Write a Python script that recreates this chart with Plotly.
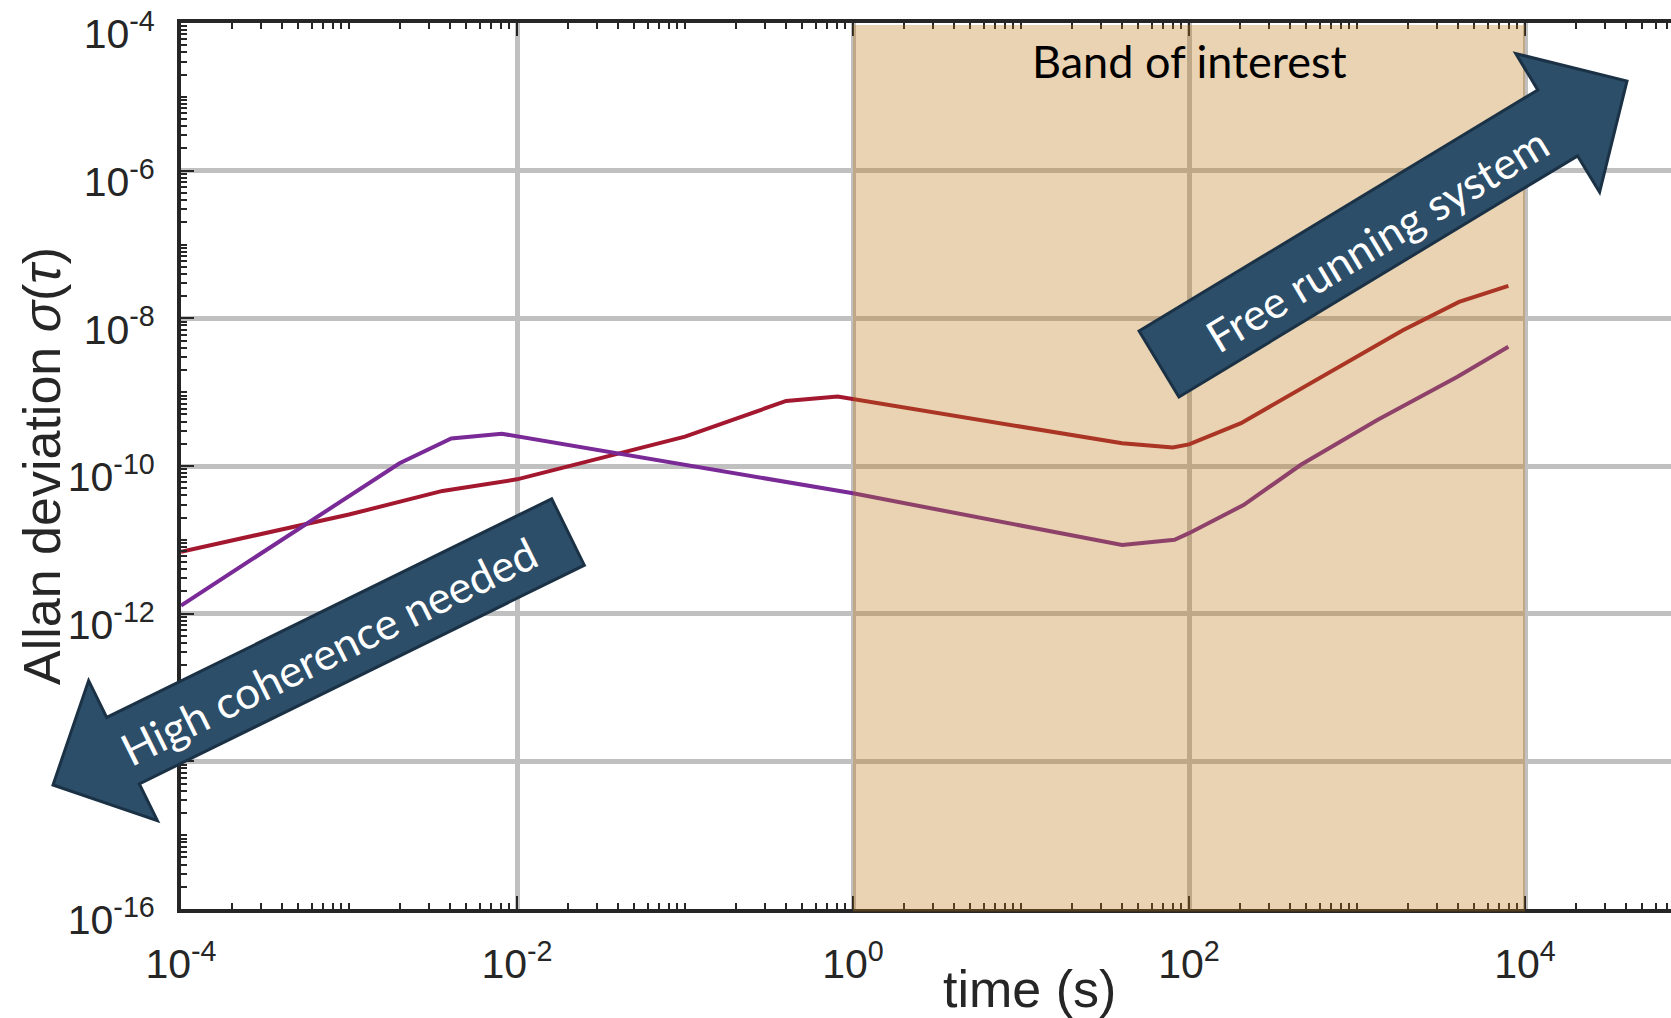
import math
import plotly.graph_objects as go

# ---- data: Allan deviation sigma(tau), tau in seconds ----
tau_red = [1e-4, 1e-3, 3.6e-3, 1e-2, 1e-1, 0.4, 0.81, 40, 80, 100, 204, 980, 1875, 4050, 7960]
adev_red = [6.9e-12, 2.2e-11, 4.6e-11, 6.6e-11, 2.5e-10, 7.6e-10, 8.7e-10,
            2.03e-10, 1.78e-10, 1.96e-10, 3.8e-10, 2.9e-9, 6.9e-9, 1.67e-8, 2.75e-8]

tau_purple = [1e-4, 2.0e-3, 4.06e-3, 8.1e-3, 1.0, 40, 82, 100, 211, 461, 1321, 3963, 7960]
adev_purple = [1.29e-12, 1.09e-10, 2.36e-10, 2.74e-10, 4.27e-11, 8.5e-12, 1.0e-11,
               1.23e-11, 2.96e-11, 1.03e-10, 4.19e-10, 1.62e-9, 4.12e-9]

band_tau = [1, 1e4]  # band of interest

x_major = [1e-4, 1e-2, 1, 1e2, 1e4]
x_major_text = ["10<sup>-4</sup>", "10<sup>-2</sup>", "10<sup>0</sup>",
                "10<sup>2</sup>", "10<sup>4</sup>"]
y_major = [1e-16, 1e-14, 1e-12, 1e-10, 1e-8, 1e-6, 1e-4]
y_major_text = ["10<sup>-16</sup>", "10<sup>-14</sup>", "10<sup>-12</sup>",
                "10<sup>-10</sup>", "10<sup>-8</sup>", "10<sup>-6</sup>", "10<sup>-4</sup>"]

# ---- page geometry ----
W, H = 1671, 1018
ML, MR, MT, MB = 181, 0, 23, 109
PW, PH = W - ML - MR, H - MT - MB
PX_PER_DECADE = 168.0
X_RANGE = [-4.0001, -4 + PW / PX_PER_DECADE]
Y_RANGE = [-16.0001, -3.9999]

AXIS_COLOR = "#262626"
GRID_COLOR = "#c0c0c0"
ARROW_FILL = "#2c4e69"
ARROW_EDGE = "#1b3246"
TEXT_FONT = "Lato, 'Open Sans', sans-serif"
AXIS_FONT = "'Liberation Sans', Arial, sans-serif"


def minor_ticks(lo, hi, skip):
    vals = []
    for d in range(lo, hi + 1):
        for k in range(1, 10):
            v = k * 10.0 ** d
            if not any(abs(v - s) / s < 1e-9 for s in skip):
                vals.append(v)
    return vals


def to_paper(px, py):
    return (px - ML) / PW, (H - MB - py) / PH


def block_arrow(tail, tip, shaft_w, head_w, head_len):
    """Closed SVG path (paper coords) of a block arrow given in page pixels."""
    dx, dy = tip[0] - tail[0], tip[1] - tail[1]
    L = math.hypot(dx, dy)
    ux, uy = dx / L, dy / L
    nx, ny = -uy, ux
    bx, by = tip[0] - ux * head_len, tip[1] - uy * head_len
    pts = [
        (tail[0] + nx * shaft_w / 2, tail[1] + ny * shaft_w / 2),
        (bx + nx * shaft_w / 2, by + ny * shaft_w / 2),
        (bx + nx * head_w / 2, by + ny * head_w / 2),
        tip,
        (bx - nx * head_w / 2, by - ny * head_w / 2),
        (bx - nx * shaft_w / 2, by - ny * shaft_w / 2),
        (tail[0] - nx * shaft_w / 2, tail[1] - ny * shaft_w / 2),
    ]
    pp = [to_paper(*p) for p in pts]
    return "M " + " L ".join(f"{x:.5f},{y:.5f}" for x, y in pp) + " Z"


fig = go.Figure()
fig.add_trace(go.Scatter(x=tau_red, y=adev_red, mode="lines",
                         line=dict(color="#a3172f", width=4), showlegend=False))
fig.add_trace(go.Scatter(x=tau_purple, y=adev_purple, mode="lines",
                         line=dict(color="#7a2a96", width=4), showlegend=False))

# translucent band over the region of interest
fig.add_shape(type="rect", xref="x", yref="paper",
              x0=band_tau[0], x1=band_tau[1], y0=-2.4 / PH, y1=1 - 2.0 / PH,
              fillcolor="rgba(186,118,14,0.32)", line=dict(width=0), layer="above")

# block arrows
fig.add_shape(type="path", xref="paper", yref="paper", layer="above",
              path=block_arrow((568, 532), (53, 785), 74, 156, 78),
              fillcolor=ARROW_FILL, line=dict(color=ARROW_EDGE, width=3))
fig.add_shape(type="path", xref="paper", yref="paper", layer="above",
              path=block_arrow((1159, 364), (1627, 81), 77, 162, 81),
              fillcolor=ARROW_FILL, line=dict(color=ARROW_EDGE, width=3))

ax1 = to_paper(328, 651)
ax2 = to_paper(1377, 239)
fig.add_annotation(x=ax1[0], y=ax1[1], xref="paper", yref="paper",
                   text="High coherence needed", showarrow=False, textangle=-26.3,
                   xanchor="center", yanchor="middle",
                   font=dict(family=TEXT_FONT, size=44, color="white"))
fig.add_annotation(x=ax2[0], y=ax2[1], xref="paper", yref="paper",
                   text="Free running system", showarrow=False, textangle=-31.1,
                   xanchor="center", yanchor="middle",
                   font=dict(family=TEXT_FONT, size=44, color="white"))
fig.add_annotation(x=math.log10(math.sqrt(band_tau[0] * band_tau[1])),
                   y=to_paper(0, 61)[1], xref="x", yref="paper",
                   text="Band of interest", showarrow=False,
                   xanchor="center", yanchor="middle",
                   font=dict(family=TEXT_FONT, size=45, color="black"))

# axis titles
fig.add_annotation(x=1.05, y=to_paper(0, 989)[1], xref="x", yref="paper",
                   text="time (s)", showarrow=False, xanchor="center", yanchor="middle",
                   font=dict(family=AXIS_FONT, size=52, color=AXIS_COLOR))
fig.add_annotation(x=to_paper(42, 0)[0], y=0.5, xref="paper", yref="paper",
                   text="Allan deviation <i>σ</i>(<i>τ</i>)", showarrow=False,
                   textangle=-90, xanchor="center", yanchor="middle",
                   font=dict(family=AXIS_FONT, size=52, color=AXIS_COLOR))

fig.update_xaxes(
    type="log", range=X_RANGE, tickmode="array", tickvals=x_major, ticktext=x_major_text,
    ticks="inside", ticklen=13, tickwidth=2, tickcolor=AXIS_COLOR,
    showline=True, linewidth=4, linecolor=AXIS_COLOR, mirror="ticks",
    showgrid=True, gridcolor=GRID_COLOR, gridwidth=4.5,
    tickfont=dict(family=AXIS_FONT, size=41, color=AXIS_COLOR),
    ticklabelstandoff=16, ticklabeloverflow="allow",
    minor=dict(tickvals=minor_ticks(-4, 4, x_major), ticks="inside", ticklen=6,
               tickwidth=1.5, tickcolor=AXIS_COLOR, showgrid=False),
    fixedrange=True,
)
fig.update_yaxes(
    type="log", range=Y_RANGE, tickmode="array", tickvals=y_major, ticktext=y_major_text,
    ticks="inside", ticklen=13, tickwidth=2, tickcolor=AXIS_COLOR,
    showline=True, linewidth=4, linecolor=AXIS_COLOR, mirror=False,
    showgrid=True, gridcolor=GRID_COLOR, gridwidth=4.5,
    tickfont=dict(family=AXIS_FONT, size=41, color=AXIS_COLOR),
    ticklabelstandoff=14, ticklabelshift=11, ticklabeloverflow="allow",
    minor=dict(tickvals=minor_ticks(-16, -5, y_major), ticks="inside", ticklen=6,
               tickwidth=1.5, tickcolor=AXIS_COLOR, showgrid=False),
    fixedrange=True,
)

fig.update_layout(
    width=W, height=H,
    margin=dict(l=ML, r=MR, t=MT, b=MB, pad=0),
    paper_bgcolor="white", plot_bgcolor="white",
    showlegend=False,
)

fig.write_html("out.html", config={"displayModeBar": False})
